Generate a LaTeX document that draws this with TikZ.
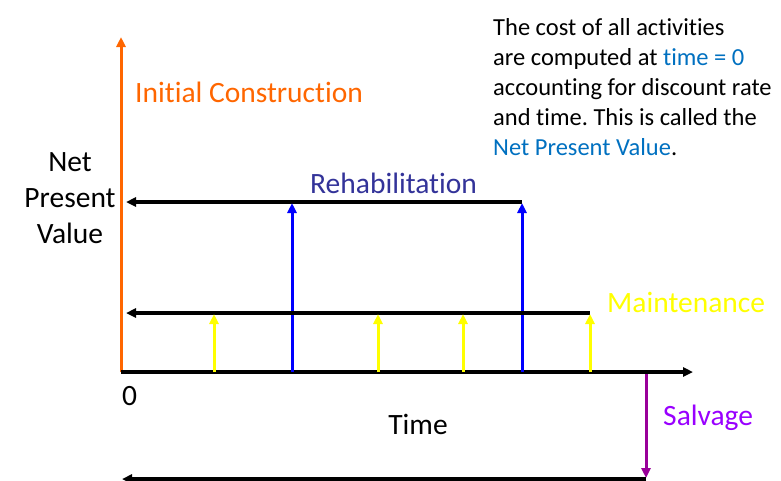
\documentclass[tikz,border=0pt]{standalone}
\usepackage{fontspec}
\setmainfont{Carlito}[Ligatures=NoCommon]
\usetikzlibrary{arrows.meta}
\definecolor{constr}{HTML}{FF6600}
\definecolor{rehab}{HTML}{0000FF}
\definecolor{rehabtxt}{HTML}{333399}
\definecolor{maint}{HTML}{FFFF00}
\definecolor{salv}{HTML}{990099}
\definecolor{salvtxt}{HTML}{9900FF}
\definecolor{npv}{HTML}{0070C0}
\frenchspacing
\begin{document}
\begin{tikzpicture}[x=1pt,y=-1pt,>={Triangle[length=10pt,width=9pt]},
  every node/.style={inner sep=0pt},
  big/.style={font=\fontsize{29.5}{36}\selectfont},
  small/.style={font=\fontsize{24.5}{30}\selectfont},
  flow/.style={line width=3.5pt,->},
  cost/.style={line width=3pt,->}]
 \useasboundingbox (0,0) rectangle (781,480);

 % axes
 \coordinate (o) at (121,372);
 \coordinate (ytop) at (121,37);
 \coordinate (xend) at (693,372);
 \draw [cost,constr] (o) -- (ytop);
 \draw [flow] (o) -- (xend);

 % rehabilitation
 \coordinate (rr) at (522,202);
 \coordinate (rl) at (126,202);
 \draw [flow] (rr) -- (rl);
 \foreach \x [count=\i] in {292,522} {
  \coordinate (rb\i) at (\x,372);
  \coordinate (rt\i) at (\x,203);
  \draw [cost,rehab] (rb\i) -- (rt\i);
 }

 % maintenance
 \coordinate (mr) at (590,313);
 \coordinate (ml) at (126,313);
 \draw [flow] (mr) -- (ml);
 \foreach \x [count=\i] in {214,378,463,590} {
  \coordinate (mb\i) at (\x,372);
  \coordinate (mt\i) at (\x,314);
  \draw [cost,maint] (mb\i) -- (mt\i);
 }

 % salvage
 \coordinate (st) at (646,374);
 \coordinate (sb) at (646,478);
 \coordinate (sl) at (122,479);
 \draw [cost,salv] (st) -- (sb);
 \draw [flow] (sb |- sl) -- (sl);

 % labels
 \node [big,constr,anchor=base west] (ic) at (135,102) {Initial Construction};
 \node [big,rehabtxt,anchor=base west] (rh) at (310,193) {Rehabilitation};
 \node [big,maint,anchor=base west] (mn) at (607,312) {Maintenance};
 \node [big,salvtxt,anchor=base west] (sv) at (663,425) {Salvage};
 \node [big,align=center,anchor=north] (yl) at (70,152) {Net\\Present\\Value};
 \node [big,anchor=base west] (zero) at (122,405) {0};
 \node [big,anchor=base] (tm) at (418,434) {Time};
 \node [small,align=left,anchor=north west] (note) at (493,18)
  {The cost of all activities\\
   are computed at \textcolor{npv}{time = 0}\\
   accounting for discount rate\\
   and time. This is called the\\
   \textcolor{npv}{Net Present Value}.};
\end{tikzpicture}
\end{document}
